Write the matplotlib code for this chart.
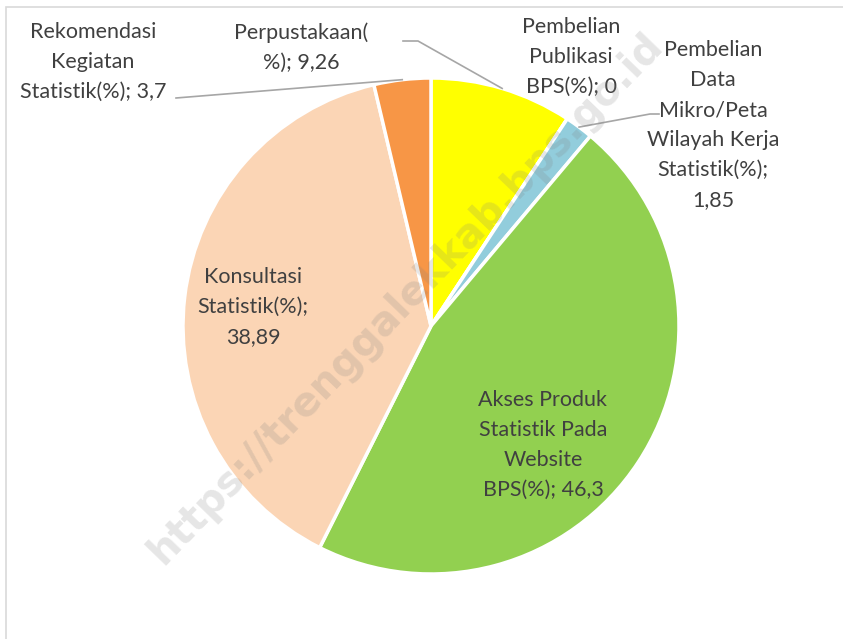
import numpy as np
import matplotlib.pyplot as plt
from matplotlib.patches import Rectangle

# data
labels = ["Perpustakaan(\n%); 9,26",
          "Pembelian\nPublikasi\nBPS(%); 0",
          "Pembelian\nData\nMikro/Peta\nWilayah Kerja\nStatistik(%);\n1,85",
          "Akses Produk\nStatistik Pada\nWebsite\nBPS(%); 46,3",
          "Konsultasi\nStatistik(%);\n38,89",
          "Rekomendasi\nKegiatan\nStatistik(%); 3,7"]
values = [9.26, 0, 1.85, 46.3, 38.89, 3.7]
colors = ["#FFFF00", "#4BACC6", "#92CDDC", "#92D050", "#FBD5B5", "#F79646"]

plt.rcParams["font.family"] = ["Lato", "DejaVu Sans"]
W, H = 843, 639
fig = plt.figure(figsize=(W / 100, H / 100), dpi=100)

# outer chart border (only top / left visible)
fig.patches.append(Rectangle((6 / W, -0.2), 2, 1 - 7 / H + 0.2, transform=fig.transFigure,
                             fill=False, edgecolor="#D9D9D9", lw=1.2))

cx, cy, R = 431, 326, 248
ax = fig.add_axes([(cx - R) / W, (H - cy - R) / H, 2 * R / W, 2 * R / H])

wedges, _ = ax.pie(values, colors=colors, startangle=90, counterclock=False, radius=1,
                   wedgeprops=dict(edgecolor="white", linewidth=2.5))
ax.set_xlim(-1, 1)
ax.set_ylim(-1, 1)
ax.set_aspect("equal")
ax.axis("off")


def d(px, py):
    # pixel position in the picture -> data coords of the pie axes
    return (px - cx) / R, (cy - py) / R


tc = "#404040"
fs = 15.5
ls = 1.62

# text positions (pixel centers)
pos = [(301, 48), (571, 57), (713, 125), (543, 445), (253, 307), (93, 62)]
for i, (lab, (px, py)) in enumerate(zip(labels, pos)):
    x, y = d(px, py)
    ax.text(x, y, lab, ha="center", va="center", fontsize=fs, color=tc,
            linespacing=ls, clip_on=False)

# leader lines
mids = []
start = 90.0
total = sum(values)
for v in values:
    ang = start - v / total * 360 / 2
    mids.append(np.deg2rad(ang))
    start -= v / total * 360

leaders = {0: [(403, 41), (418, 41)], 2: [(659, 114), (650, 114)], 5: [(176, 98)]}
for i, pts in leaders.items():
    xs = [d(*p)[0] for p in pts] + [np.cos(mids[i])]
    ys = [d(*p)[1] for p in pts] + [np.sin(mids[i])]
    ax.plot(xs, ys, color="#A6A6A6", lw=1.2, clip_on=False)

# watermark
wx, wy = d(406, 298)
ax.text(wx, wy, "https://trenggalekkab.bps.go.id", rotation=46, ha="center", va="center",
        fontsize=29, fontweight="bold", color="#808080", alpha=0.2, clip_on=False,
        rotation_mode="anchor", family="DejaVu Sans")

fig.savefig("out.png", dpi=100)
